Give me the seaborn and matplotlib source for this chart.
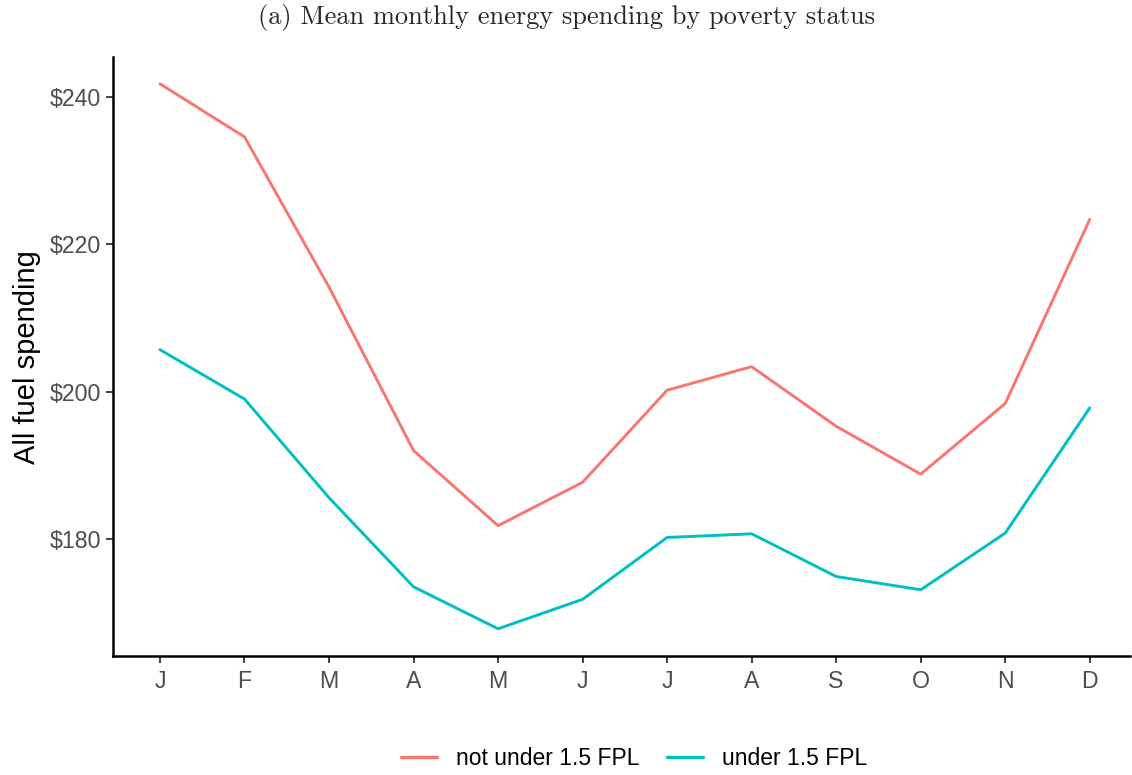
import matplotlib
matplotlib.use("Agg")
import matplotlib.pyplot as plt
import matplotlib.ticker as mticker
import seaborn as sns
import pandas as pd

months = ["J", "F", "M", "A", "M", "J", "J", "A", "S", "O", "N", "D"]
not_under = [241.8, 234.6, 214.2, 192.0, 181.8, 187.7, 200.2, 203.4, 195.3, 188.8, 198.4, 223.4]
under = [205.7, 199.0, 185.6, 173.5, 167.8, 171.8, 180.2, 180.7, 174.9, 173.1, 180.8, 197.8]
groups = ["not under 1.5 FPL", "under 1.5 FPL"]
colors = ["#F8766D", "#00BFC4"]

df = pd.DataFrame({
    "month": list(range(12)) * 2,
    "spend": not_under + under,
    "group": [groups[0]] * 12 + [groups[1]] * 12,
})

sns.set_theme(style="ticks")
plt.rcParams["font.family"] = ["Liberation Sans", "DejaVu Sans"]

fig = plt.figure(figsize=(11.32, 7.75), dpi=100)
ax = fig.add_axes([0.0998, 0.1535, 0.8982, 0.7725])

sns.lineplot(data=df, x="month", y="spend", hue="group", hue_order=groups,
             palette=colors, linewidth=2.1, ax=ax, legend=True)

ax.set_xlim(-0.556, 11.473)
ax.set_ylim(164.1, 245.4)
ax.set_xticks(range(12))
ax.set_xticklabels(months)
ax.set_yticks([180, 200, 220, 240])
ax.yaxis.set_major_formatter(mticker.FuncFormatter(lambda v, p: f"${v:.0f}"))

for s in ["top", "right"]:
    ax.spines[s].set_visible(False)
for s in ["left", "bottom"]:
    ax.spines[s].set_linewidth(1.8)
    ax.spines[s].set_color("black")

ax.tick_params(axis="both", colors="#333333", labelcolor="#4D4D4D",
               labelsize=16.7, length=5, width=1.3, direction="out")
ax.tick_params(axis="x", pad=5)
ax.set_xlabel("")
ax.set_ylabel("All fuel spending", fontsize=21, color="black", labelpad=6)

fig.text(0.5, 0.978, "(a) Mean monthly energy spending by poverty status",
         ha="center", va="center", fontsize=19, family="cmr10")

handles, labels = ax.get_legend_handles_labels()
for h in handles:
    h.set_linewidth(2.4)
ax.legend(handles, labels, loc="center", bbox_to_anchor=(0.56, 0.021),
          bbox_transform=fig.transFigure, ncol=2, frameon=False,
          fontsize=16.5, handlelength=1.6, columnspacing=1.2, handletextpad=0.8,
          labelcolor="black")

fig.savefig("out.png", dpi=100)
